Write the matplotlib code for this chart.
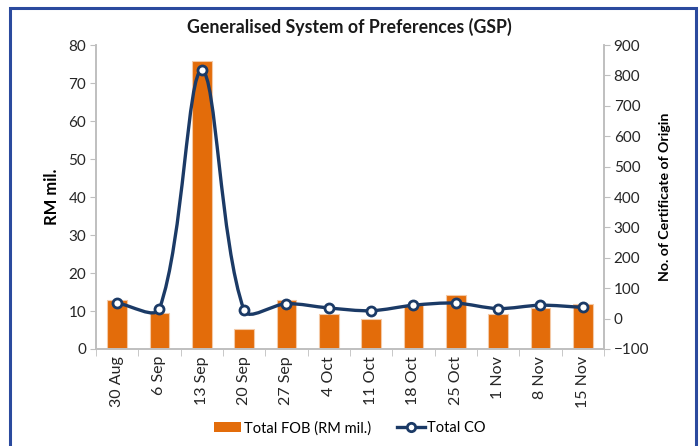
import matplotlib
matplotlib.use("Agg")
import matplotlib.pyplot as plt
import matplotlib.patches as patches
from matplotlib.path import Path
from matplotlib.lines import Line2D
import numpy as np

# データ
weeks = ["30 Aug", "6 Sep", "13 Sep", "20 Sep", "27 Sep", "4 Oct", "11 Oct",
         "18 Oct", "25 Oct", "1 Nov", "8 Nov", "15 Nov"]
total_fob = [13.0, 9.4, 75.7, 5.2, 13.0, 9.1, 7.8, 11.7, 14.1, 9.2, 10.8, 11.9]
total_co = [51, 33, 817, 27, 49, 35, 26, 44, 51, 33, 44, 37]

plt.rcParams["font.family"] = ["Lato", "DejaVu Sans"]

orange = "#E36C0A"
navy = "#1B3A66"
grey = "#BFBFBF"

fig = plt.figure(figsize=(6.99, 4.46), dpi=100)
ax = fig.add_axes([0.1373, 0.2175, 0.7267, 0.6815])
ax2 = ax.twinx()

x = np.arange(len(weeks))

# 棒グラフ
ax.bar(x, total_fob, width=0.46, color=orange, edgecolor="#F4C9A6",
       linewidth=0.8, zorder=2)

# 軸の範囲 (曲線の計算の前に決める)
ax.set_xlim(-0.5, len(weeks) - 0.5)
ax.set_ylim(0, 80)
ax.set_yticks(range(0, 81, 10))
ax2.set_ylim(-100, 900)
ax2.set_yticks(range(-100, 901, 100))

# 滑らかな折れ線 (Excel風: 画面座標で区間長に応じた制御点)
pts = ax2.transData.transform(np.column_stack([x, total_co]).astype(float))
n = len(pts)
verts = [pts[0]]
codes = [Path.MOVETO]
t = 1 / 3
for i in range(n - 1):
    p0 = pts[max(i - 1, 0)]
    p1 = pts[i]
    p2 = pts[i + 1]
    p3 = pts[min(i + 2, n - 1)]
    d01 = np.linalg.norm(p1 - p0)
    d12 = np.linalg.norm(p2 - p1)
    d23 = np.linalg.norm(p3 - p2)
    c1 = p1 + (p2 - p0) * t * d12 / (d01 + d12)
    c2 = p2 - (p3 - p1) * t * d12 / (d12 + d23)
    verts += [c1, c2, p2]
    codes += [Path.CURVE4] * 3
verts = ax2.transData.inverted().transform(np.array(verts))
ax2.add_patch(patches.PathPatch(Path(verts, codes), fill=False, edgecolor=navy,
                                linewidth=2.4, zorder=3, capstyle="round"))
ax2.plot(x, total_co, linestyle="none", marker="o", markersize=6.5,
         markerfacecolor="white", markeredgecolor=navy, markeredgewidth=2.0,
         zorder=4)

ax.set_xticks(x)
ax.set_xticklabels(weeks, rotation=90, fontsize=11.5, color="#262626")
ax.set_xticks(np.arange(-0.5, len(weeks)), minor=True)
ax.tick_params(axis="x", which="major", length=0, pad=5)
ax.tick_params(axis="x", which="minor", length=5, color=grey, direction="out")
ax.tick_params(axis="y", length=4, color=grey, labelsize=11,
               labelcolor="#262626", pad=3)
ax2.tick_params(axis="y", length=4, color=grey, labelsize=11,
                labelcolor="#262626", pad=3)

for a in (ax, ax2):
    a.spines["top"].set_visible(False)
    for side in ("left", "right", "bottom"):
        a.spines[side].set_color(grey)
        a.spines[side].set_linewidth(1.2)

ax.set_ylabel("RM mil.", fontsize=12, fontweight="bold", labelpad=6)
ax2.set_ylabel("No. of Certificate of Origin", fontsize=10.2,
               fontweight="bold", labelpad=7)
fig.text(0.5, 0.94, "Generalised System of Preferences (GSP)",
         ha="center", va="center", fontsize=12.8, fontweight="bold",
         color="#1a1a1a")

# 凡例
handles = [patches.Patch(facecolor=orange, edgecolor="none"),
           Line2D([0], [0], color=navy, linewidth=2.4, marker="o",
                  markersize=6, markerfacecolor="white",
                  markeredgecolor=navy, markeredgewidth=2)]
fig.legend(handles, ["Total FOB (RM mil.)", "Total CO"], loc="center",
           bbox_to_anchor=(0.5, 0.04), ncol=2, frameon=False, fontsize=10.5,
           handlelength=1.9, handletextpad=0.15, columnspacing=1.8)

# 外枠
fig.patches.append(patches.Rectangle((10 / 699, -0.05), 686 / 699, 1.0 - 8 / 446 + 0.05,
                                     transform=fig.transFigure, fill=False,
                                     edgecolor="#2B4A9E", linewidth=2.2))

fig.savefig("out.png", dpi=100)
